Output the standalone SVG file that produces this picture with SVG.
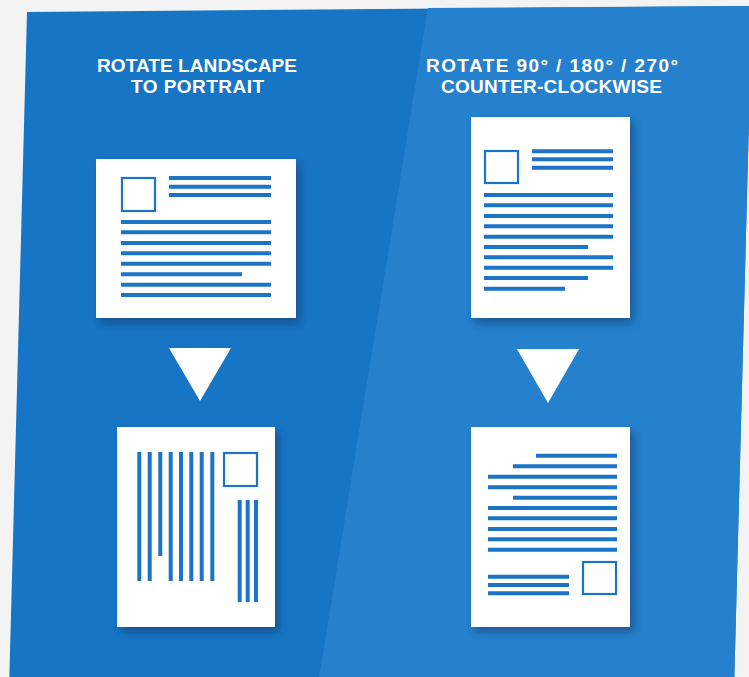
<svg xmlns="http://www.w3.org/2000/svg" width="749" height="677" viewBox="0 0 749 677">
<defs>
<filter id="sh" x="-20%" y="-20%" width="150%" height="150%">
<feDropShadow dx="4" dy="5" stdDeviation="4" flood-color="#0a3561" flood-opacity="0.55"/>
</filter>
<style>
.title{font-family:"Liberation Sans",Arial,sans-serif;font-weight:bold;font-size:19px;fill:#ffffff;text-anchor:middle}
.page{fill:#ffffff}
.ln{stroke:#1b74c6;stroke-width:4;fill:none}
.box{stroke:#1b74c6;stroke-width:2.2;fill:#ffffff}
.arrow{fill:#ffffff}
</style>
</defs>
<rect width="749" height="677" fill="#f3f3f3"/>
<g id="panel">
<polygon points="27,12 752,6 734,690 9,690" fill="#1775c5"/>
<polygon points="428,8 752,6 734,690 317,690" fill="#2581ce"/>
</g>
<g id="titles">
<text class="title" x="197" y="72" textLength="200" lengthAdjust="spacing">ROTATE LANDSCAPE</text>
<text class="title" x="197.5" y="93" textLength="133" lengthAdjust="spacing">TO PORTRAIT</text>
<text class="title" x="552" y="72" textLength="252" lengthAdjust="spacing">ROTATE 90° / 180° / 270°</text>
<text class="title" x="551.5" y="93" textLength="221" lengthAdjust="spacing">COUNTER-CLOCKWISE</text>
</g>
<g id="doc-landscape">
<rect class="page" x="96" y="159" width="200" height="159" filter="url(#sh)"/>
<rect class="box" x="122" y="178" width="33" height="33"/>
<path class="ln" d="M169 178H271M169 186.7H271M169 195H271M121 222H271M121 232.3H271M121 243H271M121 253.3H271M121 263.7H271M121 274.3H242M121 284.7H271M121 295H271"/>
</g>
<g id="doc-portrait-result">
<rect class="page" x="117" y="427" width="158" height="200" filter="url(#sh)"/>
<path class="ln" d="M139.3 452V581M149.7 452V581M160.3 452V556M170.7 452V581M181 452V581M191.3 452V581M201.7 452V581M212.3 452V581M239.7 500V602M247.7 500V602M256 500V602"/>
<rect class="box" x="224" y="453" width="33" height="33"/>
</g>
<g id="doc-portrait">
<rect class="page" x="471" y="117" width="159" height="201" filter="url(#sh)"/>
<rect class="box" x="485" y="151" width="33" height="32"/>
<path class="ln" d="M532 151.3H613M532 159.3H613M532 167.7H613M484 195H613M484 205.3H613M484 216H613M484 226.3H613M484 236.7H613M484 247H588M484 257.3H613M484 267.7H613M484 278H588M484 288.7H565"/>
</g>
<g id="doc-rotated-result">
<rect class="page" x="471" y="427" width="159" height="200" filter="url(#sh)"/>
<path class="ln" d="M536 455.7H617M513 466.3H617M488 476.7H617M488 487.3H617M513 497.7H617M488 508H617M488 518.3H617M488 529H617M488 539.3H617M488 549.7H617M488 576.7H569M488 585H569M488 593.3H569"/>
<rect class="box" x="583" y="562" width="33" height="32"/>
</g>
<g id="connectors">
<polygon class="arrow" points="169,348 231,348 200,401"/>
<polygon class="arrow" points="517,349 579,349 548,403"/>
</g>
</svg>
